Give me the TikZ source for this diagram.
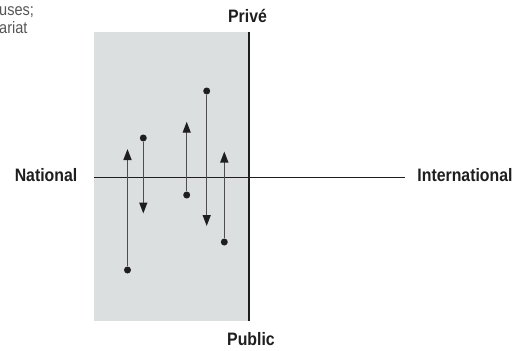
\documentclass[tikz,border=0pt]{standalone}
\usepackage{fontspec}
\newfontfamily\labelfont{Liberation Sans}[FakeStretch=0.88]
\usetikzlibrary{arrows.meta}
\definecolor{panel}{HTML}{DCDFE0}
\definecolor{ink}{HTML}{1E1E1E}
\definecolor{stem}{HTML}{4E4E4E}
\definecolor{note}{HTML}{555555}
\begin{document}
\begin{tikzpicture}[x=1pt,y=-1pt,
  axislabel/.style={font=\labelfont\bfseries\fontsize{18}{20}\selectfont, text=ink, inner sep=0pt},
  notetext/.style={font=\labelfont\fontsize{16.5}{18}\selectfont, text=note, inner sep=0pt},
  dot/.style={circle, fill=ink, inner sep=0pt, minimum size=7pt},
  move/.style={draw=stem, line width=1.4pt, -{Triangle[length=11pt,width=8pt,color=ink]}},
  axisline/.style={draw=ink, line width=1.2pt}]
\useasboundingbox (0,0) rectangle (515,351);

% shaded region left of the vertical axis
\fill[panel] (94,32) rectangle (249,321);

% partly visible note in the corner
\node[notetext, anchor=base west] (note1) at (-1,15) {uses;};
\node[notetext, anchor=base west] (note2) at (-1,33) {ariat};

% axis labels
\node[axislabel, anchor=base] (prive) at (247.5,22) {Privé};
\node[axislabel, anchor=base] (public) at (251,345) {Public};
\node[axislabel, anchor=base] (national) at (46,181) {National};
\node[axislabel, anchor=base] (intl) at (465,181) {International};

% axes
\coordinate (vtop) at (249,32);
\coordinate (vbot) at (249,321);
\coordinate (hleft) at (94,177);
\coordinate (hright) at (405,177);
\draw[axisline] (vtop) -- (vbot);
\draw[axisline, line width=1pt] (hleft) -- (hright);

% movements: start dot and arrow tip
\node[dot] (d1) at (127.5,270) {};
\coordinate (t1) at (127.5,149);
\node[dot] (d2) at (143.3,138) {};
\coordinate (t2) at (143.3,213.5);
\node[dot] (d3) at (186.7,195) {};
\coordinate (t3) at (186.7,121.7);
\node[dot] (d4) at (206.7,91) {};
\coordinate (t4) at (206.7,226);
\node[dot] (d5) at (224.3,242) {};
\coordinate (t5) at (224.3,151.5);

\foreach \i in {1,...,5}
  \draw[move] (d\i) -- (t\i);
\end{tikzpicture}
\end{document}
